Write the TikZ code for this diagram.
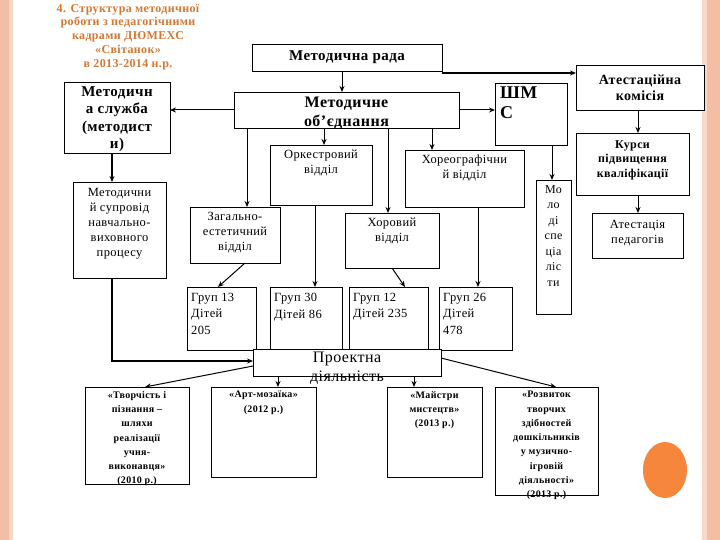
\documentclass[tikz,border=0pt]{standalone}
\usepackage{fontspec}
\setmainfont[LetterSpace=3]{Liberation Serif}
\usetikzlibrary{arrows.meta}
\definecolor{peach}{RGB}{244,190,165}
\definecolor{ttl}{RGB}{214,120,50}
\definecolor{circ}{RGB}{246,134,60}
\tikzset{
 box/.style={draw,line width=0.8pt,inner sep=0pt,outer sep=0pt,fill=white},
 lbl/.style={align=center,inner sep=1pt,font=\fontsize{12.5}{15}\selectfont},
 arr/.style={-{Stealth[length=6pt,width=5pt]},line width=1pt},
 tarr/.style={-{Stealth[length=6pt,width=5pt]},line width=2pt}
}
\newcommand\bx[5]{\node[box,minimum width={(#4-#2)*1pt},minimum height={(#5-#3)*1pt}] (#1) at ({(#2+#4)/2},{(#3+#5)/2}) {};}
\begin{document}
\begin{tikzpicture}[x=1pt,y=-1pt]
\useasboundingbox (0,0) rectangle (720,540);
\fill[white] (0,0) rectangle (720,540);
\fill[peach] (0,0) rectangle (9,540);
\fill[peach!60] (9,0) rectangle (13,540);
\fill[peach!60] (702,0) rectangle (707,540);
\fill[peach] (707,0) rectangle (720,540);
\fill[circ] (665,470) ellipse [x radius=22, y radius=28];
\node[text=ttl,font=\bfseries\fontsize{12}{13.8}\selectfont,align=center] (title) at (128,37) {4. Структура методичної\\роботи з педагогічними\\кадрами ДЮМЕХС\\«Світанок»\\в 2013-2014 н.р.};
\bx{rada}{252}{44}{442}{71}
\bx{atk}{576}{65}{704}{110}
\bx{sl}{64}{82}{170}{153}
\bx{ob}{234}{92}{459}{128}
\bx{shms}{495}{83}{567}{145}
\bx{ork}{270}{145}{372}{205}
\bx{hor}{405}{150}{524}{207}
\bx{kur}{576}{133}{689}{195}
\bx{mol}{536}{180}{571}{314}
\bx{sup}{73}{182}{166}{278}
\bx{zag}{190}{207}{280}{263}
\bx{hv}{345}{213}{439}{268}
\bx{atp}{592}{213}{683}{258}
\bx{g1}{187}{287}{256}{350}
\bx{g2}{270}{287}{342}{350}
\bx{g3}{349}{287}{428}{350}
\bx{g4}{439}{287}{512}{350}
\bx{tv}{85}{387}{189}{484}
\bx{art}{211}{387}{316}{477}
\bx{maj}{387}{387}{482}{477}
\bx{roz}{495}{387}{598}{495}
\bx{pr}{253}{349}{441}{376}
\node[lbl,font=\bfseries\fontsize{15}{18}\selectfont] (radat) at (rada) {Методична рада};
\node[lbl,font=\bfseries\fontsize{14}{16}\selectfont] (atkt) at (atk) {Атестаційна\\комісія};
\node[lbl,font=\bfseries\fontsize{15}{17.5}\selectfont,anchor=north] (slt) at ([yshift=-3]sl.north) {Методичн\\а служба\\(методист\\и)};
\node[lbl,font=\bfseries\fontsize{16}{19}\selectfont,anchor=north] (obt) at ([yshift=-4]ob.north) {Методичне\\об’єднання};
\node[lbl,font=\bfseries\fontsize{18}{20}\selectfont,anchor=north west,align=left] (shmst) at ([xshift=4,yshift=-3]shms.north west) {ШМ\\С};
\node[lbl,anchor=north] (orkt) at ([yshift=-4]ork.north) {Оркестровий\\відділ};
\node[lbl,anchor=north] (hort) at ([yshift=-4]hor.north) {Хореографічни\\й відділ};
\node[lbl,font=\bfseries\fontsize{12}{14.5}\selectfont,anchor=north] (kurt) at ([yshift=-6]kur.north) {Курси\\підвищення\\кваліфікації};
\node[lbl,anchor=north,font=\fontsize{12}{15.5}\selectfont] (molt) at ([yshift=-4]mol.north) {Мо\\ло\\ді\\спе\\ціа\\ліс\\ти};
\node[lbl,anchor=north] (supt) at ([yshift=-5]sup.north) {Методични\\й супровід\\навчально-\\виховного\\процесу};
\node[lbl,anchor=north] (zagt) at ([yshift=-4]zag.north) {Загально-\\естетичний\\відділ};
\node[lbl,anchor=north] (hvt) at ([yshift=-4]hv.north) {Хоровий\\відділ};
\node[lbl,anchor=north] (atpt) at ([yshift=-6]atp.north) {Атестація\\педагогів};
\node[lbl,anchor=north west,align=left,font=\fontsize{12.5}{16.5}\selectfont] (g1t) at ([xshift=3,yshift=-5]g1.north west) {Груп 13\\Дітей\\205};
\node[lbl,anchor=north west,align=left,font=\fontsize{12.5}{16.5}\selectfont] (g2t) at ([xshift=3,yshift=-5]g2.north west) {Груп 30\\Дітей 86};
\node[lbl,anchor=north west,align=left,font=\fontsize{12.5}{16.5}\selectfont] (g3t) at ([xshift=3,yshift=-5]g3.north west) {Груп 12\\Дітей 235};
\node[lbl,anchor=north west,align=left,font=\fontsize{12.5}{16.5}\selectfont] (g4t) at ([xshift=3,yshift=-5]g4.north west) {Груп 26\\Дітей\\478};
\node[lbl,anchor=north,font=\fontsize{16}{19}\selectfont] (prt) at ([yshift=-2]pr.north) {Проектна\\діяльність};
\tikzset{bl/.style={lbl,anchor=north,font=\bfseries\fontsize{10}{14.3}\selectfont}}
\node[bl] (tvt) at ([yshift=-3]tv.north) {«Творчість і\\пізнання –\\шляхи\\реалізації\\учня-\\виконавця»\\(2010 р.)};
\node[bl] (artt) at ([yshift=-3]art.north) {«Арт-мозаїка»\\(2012 р.)};
\node[bl] (majt) at ([yshift=-3]maj.north) {«Майстри\\мистецтв»\\(2013 р.)};
\node[bl] (rozt) at ([yshift=-3]roz.north) {«Розвиток\\творчих\\здібностей\\дошкільників\\у музично-\\ігровій\\діяльності»\\(2013 р.)};
% arrows
\draw[arr] (rada.south -| 342,0) -- (ob.north -| 342,0);
\draw[tarr] (rada.east |- 0,73) -- (atk.west |- 0,73);
\draw[arr] (ob.west) -- (sl.east |- ob.west);
\draw[arr] (ob.east) -- (shms.west |- ob.east);
\draw[arr] (ob.south -| 324,0) -- (ork.north -| 324,0);
\draw[arr] (ob.south -| 247,0) -- (zag.north -| 247,0);
\draw[arr] (ob.south -| 432,0) -- (hor.north -| 432,0);
\draw[arr] (ob.south -| 388,0) -- (hv.north -| 388,0);
\draw[tarr] (sl.south -| 112,0) -- (sup.north -| 112,0);
\draw[arr] (shms.south -| 552,0) -- (mol.north -| 552,0);
\draw[arr] (atk.south -| 638,0) -- (kur.north -| 638,0);
\draw[arr] (kur.south -| 638,0) -- (atp.north -| 638,0);
\draw[arr] (zag.south -| 245,0) -- (g1.north -| 218,0);
\draw[arr] (ork.south -| 315,0) -- (g2.north -| 315,0);
\draw[arr] (hv.south -| 392,0) -- (g3.north -| 405,0);
\draw[arr] (hor.south -| 478,0) -- (g4.north -| 478,0);
\draw[tarr] (sup.south -| 112,0) |- (pr.west |- 0,361);
\draw[arr] (pr.west |- 0,366) -- (tv.north -| 145,0);
\draw[arr] (pr.south -| 278,0) -- (art.north -| 278,0);
\draw[arr] (pr.south -| 414,0) -- (maj.north -| 414,0);
\draw[arr] (pr.east |- 0,358) -- (roz.north -| 556,0);
\end{tikzpicture}
\end{document}
